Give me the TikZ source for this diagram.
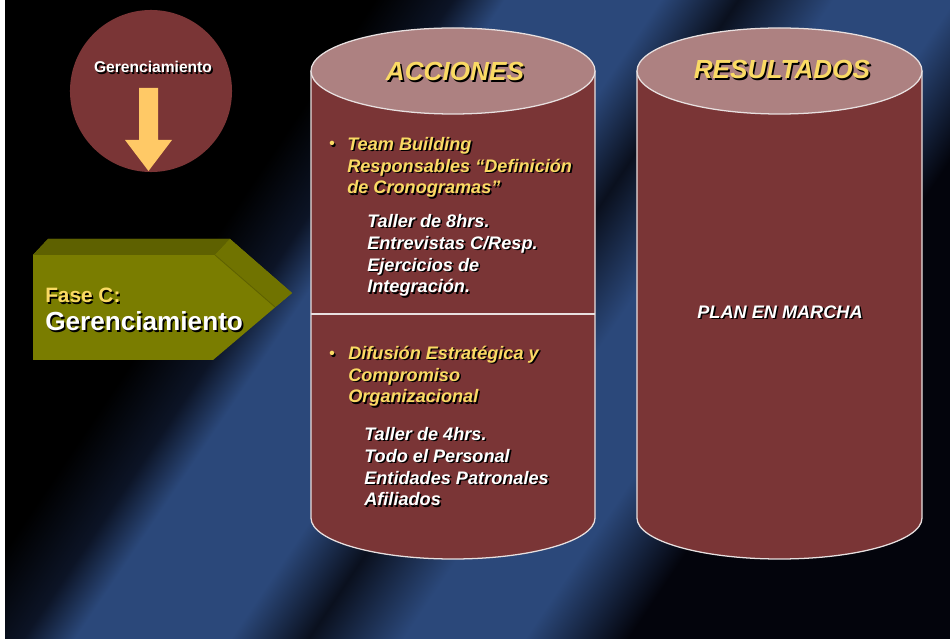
\documentclass[tikz,border=0pt]{standalone}
\usepackage{fontspec}
\setmainfont{Liberation Sans}
\usepackage{xcolor}
\definecolor{fondoAzul}{RGB}{43, 72, 122}
\definecolor{fondoMedio}{RGB}{12, 20, 38}
\definecolor{fondoOscuro}{RGB}{10, 16, 30}
\definecolor{fondoNegro}{RGB}{3, 4, 12}
\definecolor{guinda}{RGB}{122, 53, 54}
\definecolor{tapaRosa}{RGB}{173, 129, 129}
\definecolor{borde}{RGB}{232, 224, 224}
\definecolor{amarillo}{RGB}{250, 218, 100}
\definecolor{naranjaClaro}{RGB}{255, 201, 102}
\definecolor{olivaFrente}{RGB}{122, 125, 0}
\definecolor{olivaLado}{RGB}{112, 115, 0}
\definecolor{olivaTapa}{RGB}{94, 97, 0}
% haz diagonal del fondo
\pgfdeclarehorizontalshading{fondoHaz}{100bp}{color(0bp)=(black); color(34.08bp)=(black);
  color(38.01bp)=(fondoMedio); color(40.63bp)=(fondoAzul); color(48.49bp)=(fondoAzul);
  color(52.42bp)=(fondoOscuro); color(57.23bp)=(fondoAzul); color(63.34bp)=(fondoAzul);
  color(68.58bp)=(fondoNegro); color(100bp)=(fondoNegro)}
% texto con sombra: nombre, posicion, estilo, texto
\newcommand{\rotulo}[4]{%
  \node[#3, sombra] at (#2) {#4};
  \node[#3] (#1) at (#2) {#4};}

\begin{document}
\begin{tikzpicture}[x=0.025cm, y=0.025cm, every node/.style={inner sep=0pt},
    sombra/.style={text=black, xshift=0.04cm, yshift=-0.04cm},
    titulo/.style={font=\fontsize{18.6}{22}\selectfont\bfseries\itshape, text=amarillo},
    vineta/.style={font=\fontsize{12.9}{15.6}\selectfont\bfseries\itshape, text=amarillo, align=left, anchor=base west},
    punto/.style={font=\fontsize{11}{13}\selectfont\bfseries, text=amarillo, anchor=base west},
    detalle/.style={font=\fontsize{12.9}{15.6}\selectfont\bfseries\itshape, text=white, align=left, anchor=base west},
    contorno/.style={draw=borde, line width=0.9pt}]
        \useasboundingbox (0,0) rectangle (950,639);
        % Fondo
        \shade[shading=fondoHaz, shading angle=-33.93] (0,0) rectangle (950,639);
        \fill[white] (0,0) rectangle (5,639);

        % Circulo con flecha
        \node[circle, fill=guinda, minimum size=4.05cm] (circulo) at (151,548) {};
        \fill[naranjaClaro] (139,551) -- (158,551) -- (158,499) -- (172,499) -- (148.5,468)
            -- (125,499) -- (139,499) -- cycle;
        \rotulo{gerCirculo}{153,566.5}{anchor=base, font=\fontsize{11.1}{13}\selectfont\bfseries, text=white}{Gerenciamiento}

        % Bloque de la fase
        \fill[olivaFrente] (33,384) -- (48,400) -- (230,400) -- (292,346) -- (213,279) -- (33,279) -- cycle;
        \fill[olivaTapa] (33,384) -- (48,400) -- (230,400) -- (215,384) -- cycle;
        \fill[olivaLado] (215,384) -- (230,400) -- (292,346) -- (275,332) -- cycle;
        \draw[olivaTapa, line width=0.6pt] (215,384) -- (275,332);
        \rotulo{faseC}{45,336.5}{anchor=base west, font=\fontsize{14.8}{18}\selectfont\bfseries, text=amarillo}{Fase C:}
        \rotulo{faseNombre}{45,308}{anchor=base west, font=\fontsize{18.6}{22}\selectfont\bfseries, text=white}{Gerenciamiento}

        % Cilindro de acciones
        \fill[guinda] (311,568) -- (311,121) arc[start angle=180, end angle=360, x radius=142, y radius=41]
            -- (595,568) -- cycle;
        \draw[contorno] (311,568) -- (311,121) arc[start angle=180, end angle=360, x radius=142, y radius=41]
            -- (595,568);
        \draw[contorno] (311,325) -- (595,325);
        \filldraw[contorno, fill=tapaRosa] (453,568) ellipse [x radius=142, y radius=43];

        % Cilindro de resultados
        \fill[guinda] (637,568) -- (637,121) arc[start angle=180, end angle=360, x radius=142.5, y radius=41]
            -- (922,568) -- cycle;
        \draw[contorno] (637,568) -- (637,121) arc[start angle=180, end angle=360, x radius=142.5, y radius=41]
            -- (922,568);
        \filldraw[contorno, fill=tapaRosa] (779.5,568) ellipse [x radius=142.5, y radius=43];

        % Titulos
        \rotulo{acciones}{455,567}{titulo}{ACCIONES}
        \rotulo{resultados}{782,569}{titulo}{RESULTADOS}

        % Contenido de acciones (base = ultima linea)
        \rotulo{vinetaA}{329,490}{punto}{•}
        \rotulo{teamBuilding}{347,445}{vineta}{Team Building\\Responsables “Definición\\de Cronogramas”}
        \rotulo{tallerA}{367,346}{detalle}{Taller de 8hrs.\\Entrevistas C/Resp.\\Ejercicios de\\Integración.}
        \rotulo{vinetaB}{329,280}{punto}{•}
        \rotulo{difusion}{348,236}{vineta}{Difusión Estratégica y\\Compromiso\\Organizacional}
        \rotulo{tallerB}{364,133}{detalle}{Taller de 4hrs.\\Todo el Personal\\Entidades Patronales\\Afiliados}

        % Resultado
        \rotulo{plan}{780,327}{detalle, anchor=center}{PLAN EN MARCHA}
    \end{tikzpicture}
\end{document}
